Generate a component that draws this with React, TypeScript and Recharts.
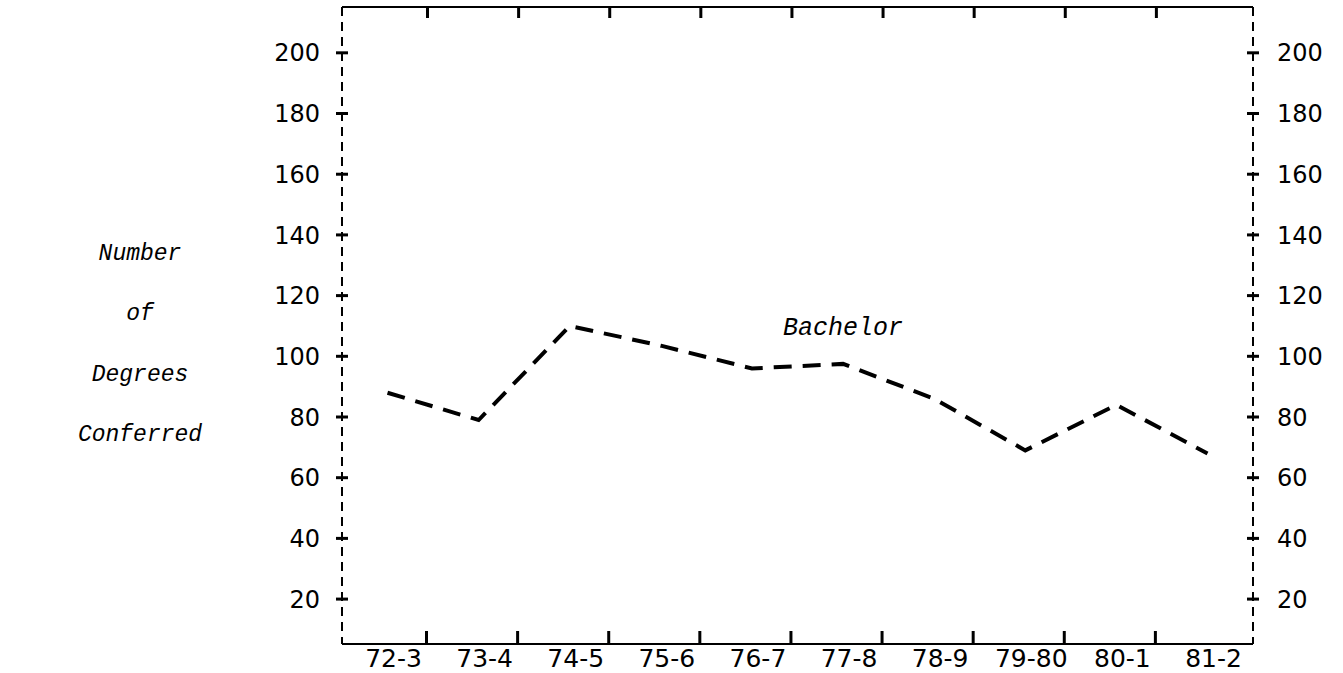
import { LineChart, Line, XAxis, YAxis, ReferenceDot } from "recharts";

const years = ["72-3", "73-4", "74-5", "75-6", "76-7", "77-8", "78-9", "79-80", "80-1", "81-2"];
const bachelor = [88, 79, 110, 103.5, 96, 97.5, 86, 69, 84, 68];
const yTicks = [20, 40, 60, 80, 100, 120, 140, 160, 180, 200];
const titleLines = ["Number", "of", "Degrees", "Conferred"];

const data = years.map((year, i) => ({ year, bachelor: bachelor[i] }));

const numFont = "'DejaVu Sans', sans-serif";
const typeFont = "'Liberation Mono', 'Courier New', monospace";

// label sits a bit right of the point, tick mark sits before the next category
const BottomTick = ({ x, y, payload, index }: any) => (
  <g>
    {index < years.length - 1 && (
      <line x1={x + 39} x2={x + 39} y1={y} y2={y - 13} stroke="#000" strokeWidth={3} />
    )}
    <text x={x + 6} y={y + 23} textAnchor="middle" fontSize={25} fontFamily={numFont} fill="#000">
      {payload.value}
    </text>
  </g>
);

const TopTick = ({ x, y, index }: any) =>
  index < years.length - 1 ? (
    <line x1={x + 40} x2={x + 40} y1={y} y2={y + 11} stroke="#000" strokeWidth={3} />
  ) : (
    <g />
  );

const LeftTick = ({ x, y, payload }: any) => (
  <g>
    <line x1={x - 6} x2={x + 6} y1={y} y2={y} stroke="#000" strokeWidth={3} />
    <text x={x - 22} y={y} dy="0.36em" textAnchor="end" fontSize={24} fontFamily={numFont} fill="#000">
      {payload.value}
    </text>
  </g>
);

const RightTick = ({ x, y, payload }: any) => (
  <g>
    <line x1={x - 6} x2={x + 6} y1={y} y2={y} stroke="#000" strokeWidth={3} />
    <text x={x + 24} y={y} dy="0.36em" textAnchor="start" fontSize={24} fontFamily={numFont} fill="#000">
      {payload.value}
    </text>
  </g>
);

const AxisTitle = ({ viewBox }: any) => {
  const cx = viewBox.x + 140;
  const cy = viewBox.y + viewBox.height / 2 + 18;
  return (
    <g>
      {titleLines.map((t, i) => (
        <text
          key={t}
          x={cx}
          y={cy + (i - 1.5) * 60.5}
          dy="0.3em"
          textAnchor="middle"
          fontSize={23}
          fontStyle="italic"
          fontFamily={typeFont}
          fill="#000"
        >
          {t}
        </text>
      ))}
    </g>
  );
};

const domain: [number, number] = [5.2, 215.1];
const frameDash = { stroke: "#000", strokeWidth: 2, strokeDasharray: "9 6" };

export default function App() {
  return (
    <div style={{ position: "absolute", left: 0, top: 0, background: "#fff" }}>
      <LineChart width={1343} height={673} data={data} margin={{ top: 6, right: 0, bottom: 0, left: 0 }}>
        <XAxis
          dataKey="year"
          interval={0}
          height={29}
          padding={{ left: 45.5, right: 45.5 }}
          tickSize={0}
          tickMargin={0}
          tick={<BottomTick />}
          axisLine={{ stroke: "#000", strokeWidth: 2 }}
        />
        <XAxis
          xAxisId="top"
          orientation="top"
          dataKey="year"
          interval={0}
          height={1}
          padding={{ left: 45.5, right: 45.5 }}
          tickSize={0}
          tickMargin={0}
          tick={<TopTick />}
          axisLine={{ stroke: "#000", strokeWidth: 2 }}
        />
        <YAxis
          type="number"
          width={342}
          domain={domain}
          ticks={yTicks}
          interval={0}
          allowDataOverflow
          tickSize={0}
          tickMargin={0}
          tick={<LeftTick />}
          axisLine={frameDash}
          label={{ content: <AxisTitle /> }}
        />
        <YAxis
          yAxisId="right"
          orientation="right"
          type="number"
          width={90}
          domain={domain}
          ticks={yTicks}
          interval={0}
          allowDataOverflow
          tickSize={0}
          tickMargin={0}
          tick={<RightTick />}
          axisLine={frameDash}
        />
        <Line
          type="linear"
          dataKey="bachelor"
          stroke="#000"
          strokeWidth={4}
          strokeDasharray="18 11"
          dot={false}
          activeDot={false}
          isAnimationActive={false}
        />
        <ReferenceDot
          x="77-8"
          y={110}
          r={0}
          stroke="none"
          fill="none"
          label={{
            value: "Bachelor",
            position: "center",
            fontSize: 25,
            fontStyle: "italic",
            fontFamily: typeFont,
            fill: "#000",
          }}
        />
      </LineChart>
    </div>
  );
}
